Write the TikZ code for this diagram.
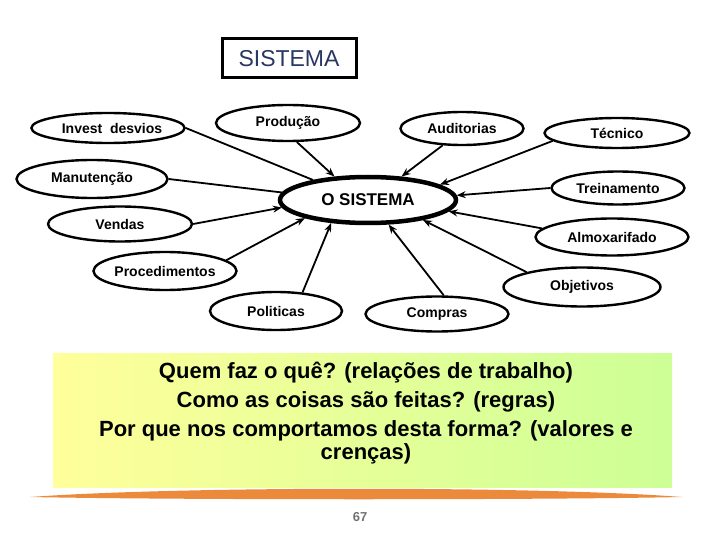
\documentclass[tikz,border=0pt]{standalone}
\usepackage{fontspec}
\setmainfont{Liberation Sans}
\usetikzlibrary{shapes.geometric,arrows.meta}
\definecolor{titleblue}{RGB}{40,55,100}
\definecolor{boxyellow}{RGB}{255,255,155}
\definecolor{boxgreen}{RGB}{205,255,150}
\definecolor{orB}{RGB}{236,138,60}
\definecolor{pagegray}{RGB}{115,115,115}
\tikzset{
  bub/.style={ellipse, draw=black, line width=2.4pt, inner sep=0pt, font=\fontsize{14}{16}\selectfont\bfseries},
  hub/.style={ellipse, draw=black, line width=4.5pt, inner sep=0pt, font=\fontsize{17}{19}\selectfont\bfseries},
  arr/.style={line width=1.8pt, -{Stealth[length=9pt,width=7pt]}},
  ln/.style={line width=1.8pt}
}
\begin{document}
\begin{tikzpicture}[x=1pt,y=-1pt]
\useasboundingbox (0,0) rectangle (720,540);
% title
\node[draw=black, line width=3pt, minimum width=134pt, minimum height=39pt, inner sep=0pt,
      font=\fontsize{23}{25}\selectfont, text=titleblue] (title) at (289,58.5) {SISTEMA};
% hub
\node[hub, minimum width=176pt, minimum height=46pt] (sis) at (368,200) {O SISTEMA};
% satellites
\node[bub, minimum width=144pt, minimum height=30pt] (inv) at (108,128) {\hspace{8pt}Invest\ \ desvios};
\node[bub, minimum width=144pt, minimum height=36pt] (prod) at (288,123) {Produção};
\node[bub, minimum width=123pt, minimum height=33pt] (aud) at (462,128.5) {Auditorias};
\node[bub, minimum width=145pt, minimum height=30pt] (tec) at (617,133) {Técnico};
\node[bub, minimum width=133pt, minimum height=33pt] (trei) at (618,188) {Treinamento};
\node[bub, minimum width=153pt, minimum height=37pt] (almox) at (612,237) {Almoxarifado};
\node[bub, minimum width=151pt, minimum height=38pt] (man) at (92,179) {Manutenção};
\node[bub, minimum width=144pt, minimum height=35pt] (vend) at (120,224) {Vendas};
\node[bub, minimum width=136pt, minimum height=38pt] (proc) at (165,271) {Procedimentos};
\node[bub, minimum width=132pt, minimum height=38pt] (pol) at (276,311) {Politicas};
\node[bub, minimum width=157pt, minimum height=39pt] (obj) at (582,287) {Objetivos};
\node[bub, minimum width=143pt, minimum height=35pt] (comp) at (437,314) {Compras};
% connectors
\draw[ln] (inv.east) -- (sis.160);
\draw[ln] (man.east) -- (sis.175);
\draw[arr] (prod.295) -- (sis.145);
\draw[arr] (aud.221) -- (sis.35);
\draw[arr] (tec.187) -- (sis.12);
\draw[arr] (trei.west) -- (sis.3);
\draw[arr] (almox.173) -- (sis.352);
\draw[arr] (vend.east) -- (sis.185);
\draw[arr] (proc.10) -- (sis.196);
\draw[arr] (pol.35) -- (sis.212.5);
\draw[arr] (comp.70) -- (sis.310.6);
\draw[arr] (obj.165) -- (sis.340.6);
% bottom box
\shade[left color=boxyellow, right color=boxgreen] (53,353) rectangle (672,487);
\node[align=center, font=\fontsize{22}{29}\selectfont\bfseries, text=black] (q) at (366,413)
  {Quem faz o quê? (relações de trabalho)\\Como as coisas são feitas? (regras)\\Por que nos comportamos desta forma? (valores e\\[-6pt]crenças)};
% swoosh
\fill[orB]
  (30,497) .. controls (180,486) and (540,486) .. (682,497)
  .. controls (540,500) and (180,500) .. (30,497) -- cycle;
\node[font=\fontsize{13}{15}\selectfont\bfseries, text=pagegray] (pg) at (360,517) {67};
\end{tikzpicture}
\end{document}
